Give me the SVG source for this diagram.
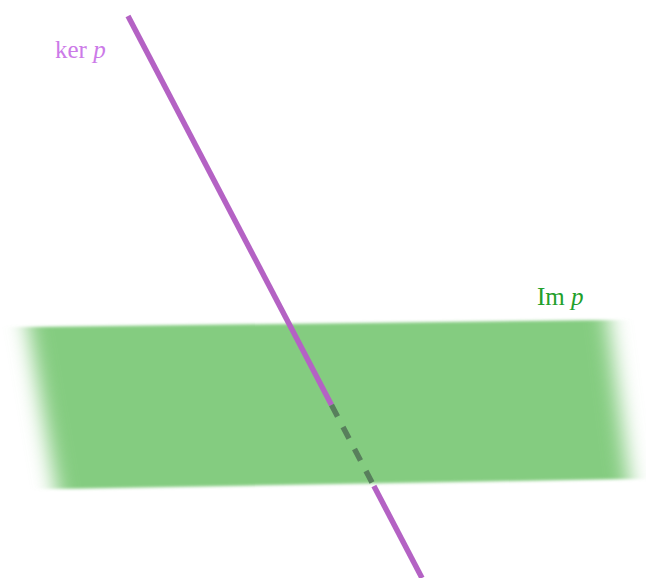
<svg xmlns="http://www.w3.org/2000/svg" width="646" height="578" viewBox="0 0 646 578">
  <style>
    .lbl { font-family: "Liberation Serif", "DejaVu Serif", serif; font-size: 25px; }
    .it { font-style: italic; }
    .ker { fill: #cc7ae8; }
    .im { fill: #22a02a; }
    .line { stroke: #b462c4; stroke-width: 5.5; fill: none; stroke-linecap: butt; }
    .hidden { stroke: #587f5c; stroke-width: 5.5; fill: none; stroke-dasharray: 13 11.8; }
  </style>
  <defs>
    <filter id="soft" filterUnits="userSpaceOnUse" x="-40" y="290" width="740" height="230">
      <feGaussianBlur stdDeviation="10.5 1.5"/>
    </filter>
  </defs>
  <rect width="646" height="578" fill="#ffffff"/>
  <g id="plane-im">
    <polygon points="28,327 608,320 629,479 56,489" fill="#84cc80" filter="url(#soft)"/>
  </g>
  <g id="connectors">
    <line class="line" x1="128" y1="16" x2="331.5" y2="405"/>
    <line class="hidden" x1="331.5" y1="405" x2="372.3" y2="483"/>
    <line class="line" x1="373.9" y1="486" x2="422" y2="578"/>
  </g>
  <g id="label-ker">
    <text class="lbl ker" x="55" y="58">ker <tspan class="it">p</tspan></text>
  </g>
  <g id="label-im">
    <text class="lbl im" x="537" y="305">Im <tspan class="it">p</tspan></text>
  </g>
</svg>
